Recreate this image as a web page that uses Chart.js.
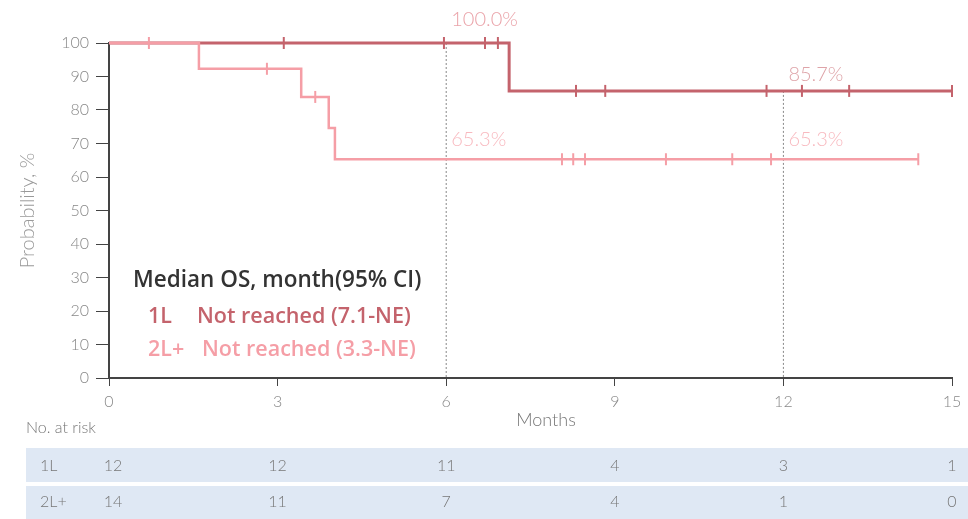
<!DOCTYPE html>
<html>
<head>
<meta charset="utf-8">
<script src="https://cdn.jsdelivr.net/npm/chart.js@4.4.1/dist/chart.umd.min.js"></script>
<style>
  html, body { margin: 0; padding: 0; background: #fff; }
  #wrap { width: 968px; height: 519px; position: relative; }
</style>
</head>
<body>
<div id="wrap"><canvas id="km"></canvas></div>
<script>
// x axis / risk table
const months = [0, 3, 6, 9, 12, 15];
const riskL1 = [12, 12, 11, 4, 3, 1];
const riskL2 = [14, 11, 7, 4, 1, 0];

// 1L curve (steps) and censored times
const l1Time = [0, 7.12, 15];
const l1Surv = [100, 85.7, 85.7];
const l1Censor = [3.11, 5.96, 6.69, 6.92, 8.31, 8.83, 11.7, 12.33, 13.17, 15];

// 2L+ curve (steps) and censored times
const l2Time = [0, 1.6, 3.42, 3.91, 4.02, 14.4];
const l2Surv = [100, 92.3, 83.9, 74.6, 65.3, 65.3];
const l2Censor = [0.71, 2.81, 3.67, 8.06, 8.26, 8.47, 9.91, 11.09, 11.78, 14.4];

// landmark labels
const marks = [
    { t: 6, v: 100, text: '100.0%', color: '#eaa3a9', dy: -23 },
    { t: 12, v: 85.7, text: '85.7%', color: '#dea3a8', dy: -16 },
    { t: 6, v: 65.3, text: '65.3%', color: '#f8b9bf', dy: -20 },
    { t: 12, v: 65.3, text: '65.3%', color: '#f8b9bf', dy: -20 }
];

const C1 = '#c4636c';
const C2 = '#f59ea6';
const FONT = 'Lato, "Noto Sans", sans-serif';
const BOLD = '"Open Sans", "Noto Sans", sans-serif';

function survAt(times, surv, t) {
    let v = surv[0];
    for (let i = 0; i < times.length; i++) {
        if (times[i] <= t) v = surv[i];
    }
    return v;
}

const curve = (times, surv) => times.map((t, i) => ({ x: t, y: surv[i] }));
const censorPts = (cens, times, surv) => cens.map(t => ({ x: t, y: survAt(times, surv, t) }));

const overlay = {
    id: 'overlay',
    afterDraw(chart) {
        const ctx = chart.ctx;
        const xs = chart.scales.x;
        const ys = chart.scales.y;
        ctx.save();

        // landmark percentages
        ctx.font = '300 20px ' + FONT;
        ctx.textBaseline = 'middle';
        ctx.textAlign = 'left';
        marks.forEach(m => {
            ctx.fillStyle = m.color;
            ctx.fillText(m.text, xs.getPixelForValue(m.t) + 5, ys.getPixelForValue(m.v) + m.dy);
        });

        // axis titles
        ctx.fillStyle = '#999';
        ctx.font = '300 20px ' + FONT;
        ctx.save();
        ctx.translate(28, (ys.top + ys.bottom) / 2);
        ctx.rotate(-Math.PI / 2);
        ctx.textAlign = 'center';
        ctx.fillText('Probability, %', 0, 0);
        ctx.restore();

        ctx.fillStyle = '#777';
        ctx.font = '300 18px ' + FONT;
        ctx.textAlign = 'center';
        ctx.fillText('Months', 546, 420);

        // median OS text block
        ctx.textAlign = 'left';
        ctx.font = '600 22.5px ' + BOLD;
        ctx.fillStyle = '#333';
        ctx.fillText('Median OS, month(95% CI)', 133, 281);
        ctx.font = '600 21.5px ' + BOLD;
        ctx.fillStyle = C1;
        ctx.fillText('1L', 148, 317);
        ctx.fillText('Not reached (7.1-NE)', 197, 317);
        ctx.fillStyle = C2;
        ctx.fillText('2L+', 148, 350);
        ctx.fillText('Not reached (3.3-NE)', 202, 350);

        // risk table
        ctx.fillStyle = '#dfe8f4';
        ctx.fillRect(26, 448, 942, 34);
        ctx.fillRect(26, 486, 942, 33);
        ctx.font = '300 16px ' + FONT;
        ctx.fillStyle = '#777';
        ctx.fillText('No. at risk', 26, 428);
        ctx.fillText('1L', 40, 466);
        ctx.fillText('2L+', 40, 502);
        ctx.textAlign = 'center';
        months.forEach((m, i) => {
            const px = xs.getPixelForValue(m) + (i === 0 ? 4 : 0);
            ctx.fillText(String(riskL1[i]), px, 466);
            ctx.fillText(String(riskL2[i]), px, 502);
        });
        ctx.restore();
    }
};

new Chart(document.getElementById('km'), {
    type: 'scatter',
    data: {
        datasets: [
            {
                label: '2L+',
                data: curve(l2Time, l2Surv),
                showLine: true,
                stepped: 'before',
                borderColor: C2,
                borderWidth: 2.5,
                pointRadius: 0,
                clip: false
            },
            {
                label: '2L+ censored',
                data: censorPts(l2Censor, l2Time, l2Surv),
                pointStyle: 'line',
                rotation: 90,
                pointRadius: 6,
                borderColor: C2,
                borderWidth: 2,
                clip: false
            },
            {
                label: '1L',
                data: curve(l1Time, l1Surv),
                showLine: true,
                stepped: 'before',
                borderColor: C1,
                borderWidth: 3,
                pointRadius: 0,
                clip: false
            },
            {
                label: '1L censored',
                data: censorPts(l1Censor, l1Time, l1Surv),
                pointStyle: 'line',
                rotation: 90,
                pointRadius: 6,
                borderColor: C1,
                borderWidth: 2,
                clip: false
            },
            {
                label: '6 months',
                data: [{ x: 6, y: 100 }, { x: 6, y: 0 }],
                showLine: true,
                borderColor: '#888',
                borderWidth: 1,
                borderDash: [2, 2],
                pointRadius: 0
            },
            {
                label: '12 months',
                data: [{ x: 12, y: 85.7 }, { x: 12, y: 0 }],
                showLine: true,
                borderColor: '#888',
                borderWidth: 1,
                borderDash: [2, 2],
                pointRadius: 0
            }
        ]
    },
    options: {
        responsive: true,
        maintainAspectRatio: false,
        animation: false,
        layout: { padding: { top: 43, right: 16, left: 0, bottom: 0 } },
        plugins: {
            legend: { display: false },
            tooltip: { enabled: false }
        },
        scales: {
            x: {
                type: 'linear',
                min: 0,
                max: 15,
                afterFit(scale) { scale.height = 141; },
                ticks: {
                    stepSize: 3,
                    color: '#888',
                    font: { family: FONT, size: 16, weight: 300 },
                    padding: 6
                },
                grid: { drawOnChartArea: false, drawTicks: true, tickLength: 8, color: '#444' },
                border: { color: '#444', width: 2 }
            },
            y: {
                min: 0,
                max: 100,
                afterFit(scale) { scale.width = 109; },
                ticks: {
                    stepSize: 10,
                    color: '#888',
                    font: { family: FONT, size: 16, weight: 300 },
                    padding: 7
                },
                grid: { drawOnChartArea: false, drawTicks: true, tickLength: 13, color: '#444' },
                border: { color: '#444', width: 2 }
            }
        }
    },
    plugins: [overlay]
});
</script>
</body>
</html>
